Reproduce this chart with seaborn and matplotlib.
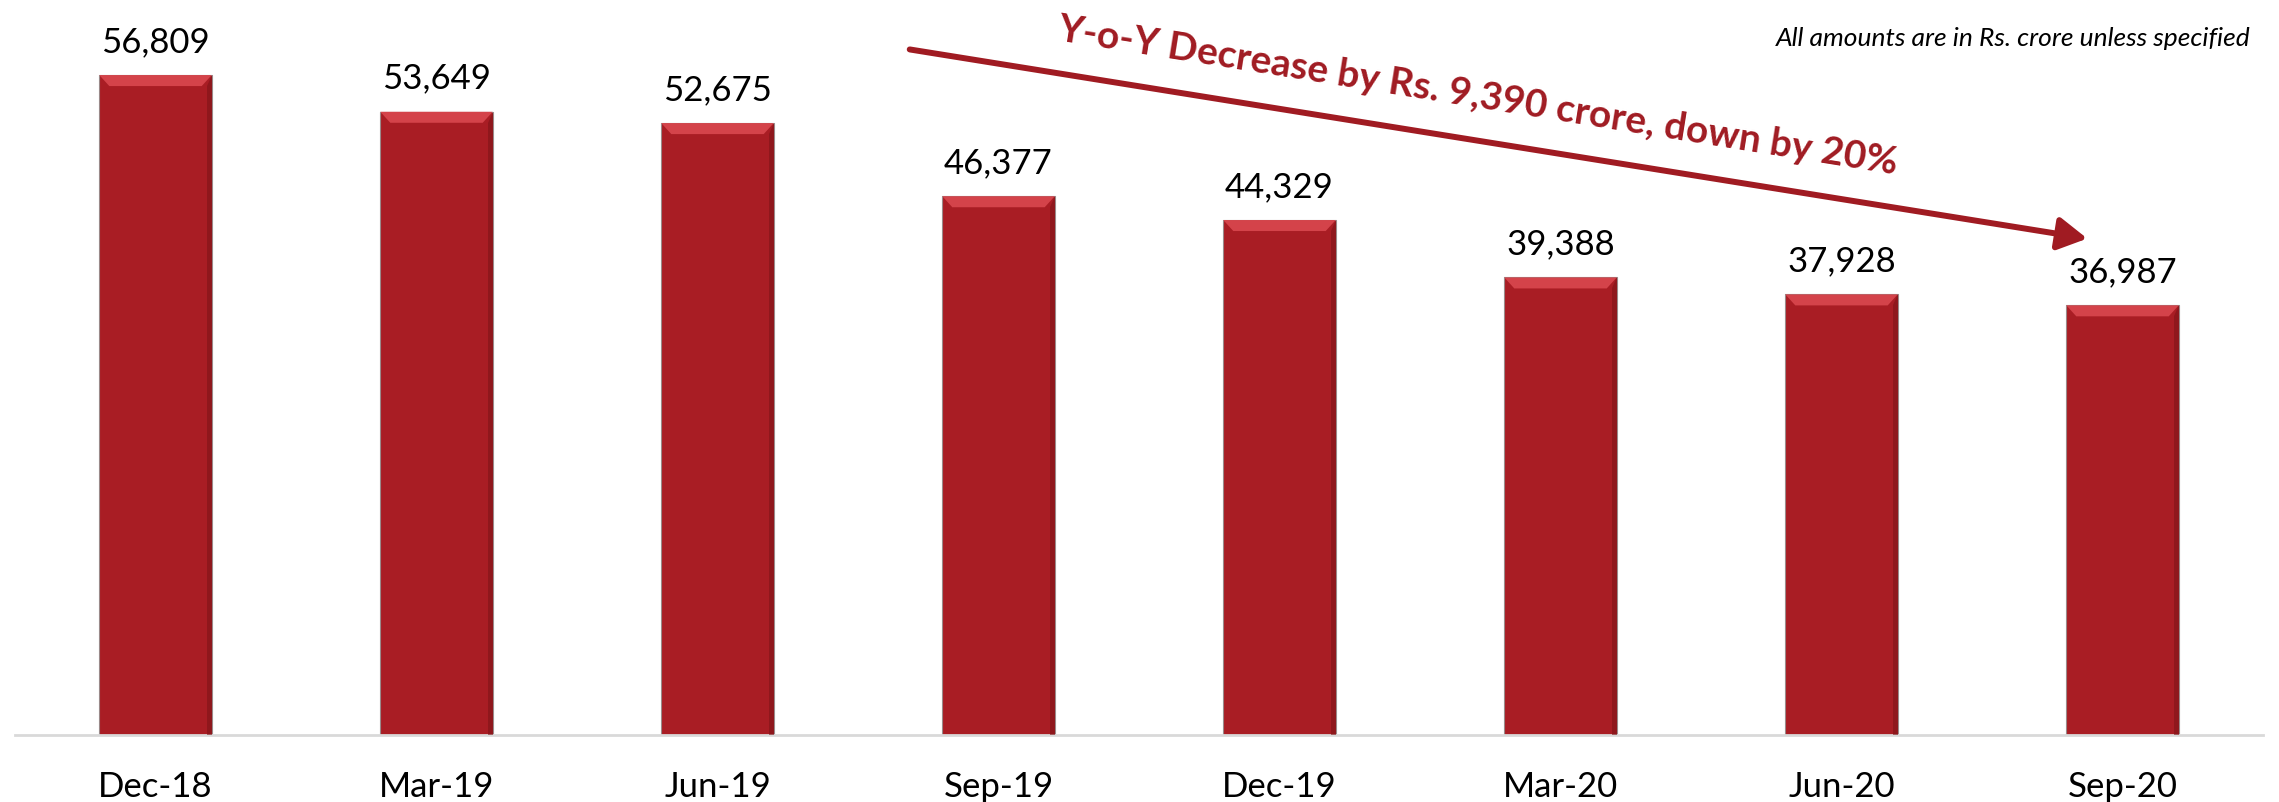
import numpy as np
import pandas as pd
import matplotlib
matplotlib.use("Agg")
import matplotlib.pyplot as plt
from matplotlib.patches import Polygon, FancyArrowPatch
import seaborn as sns

quarters = ["Dec-18", "Mar-19", "Jun-19", "Sep-19", "Dec-19", "Mar-20", "Jun-20", "Sep-20"]
amounts = [56809, 53649, 52675, 46377, 44329, 39388, 37928, 36987]

note_text = "All amounts are in Rs. crore unless specified"
trend_text = "Y-o-Y Decrease by Rs. 9,390 crore, down by 20%"

BAR = "#A91D24"
BAR_TOP = "#D4434A"
BAR_SIDE = "#7E1318"
ACCENT = "#A01B22"

sns.set_theme(style="white")
plt.rcParams["font.family"] = ["Lato", "DejaVu Sans"]

W, H = 2279, 803
fig = plt.figure(figsize=(W / 100, H / 100), dpi=100)
fig.patch.set_facecolor("white")
ax = fig.add_axes([15 / W, 67 / H, 2248 / W, 697 / H])

df = pd.DataFrame({"quarter": quarters, "amount": amounts})
sns.barplot(data=df, x="quarter", y="amount", color=BAR, width=0.4,
            saturation=1, edgecolor="#9a8a8a", linewidth=0.8, ax=ax)

ax.set_xlim(-0.5, len(quarters) - 0.5)
ax.set_ylim(0, 60000)

# bevel look: lighter top strip, darker right strip
px_x = 2248 / len(quarters)        # pixels per category unit
px_y = 697 / 60000                 # pixels per value unit
bev_h = 11 / px_y
bev_w = 10 / px_x
side_w = 5 / px_x
for bar in ax.patches:
    x0 = bar.get_x()
    w = bar.get_width()
    h = bar.get_height()
    top = Polygon([(x0, h), (x0 + w, h), (x0 + w - bev_w, h - bev_h), (x0 + bev_w, h - bev_h)],
                  closed=True, facecolor=BAR_TOP, edgecolor="none", zorder=3)
    side = Polygon([(x0 + w, h), (x0 + w, 0), (x0 + w - side_w, 0), (x0 + w - side_w, h - bev_h)],
                   closed=True, facecolor=BAR_SIDE, edgecolor="none", alpha=0.6, zorder=3)
    ax.add_patch(top)
    ax.add_patch(side)

ax.bar_label(ax.containers[0], labels=[f"{v:,}" for v in amounts],
             padding=13, fontsize=25, color="black")

for s in ["top", "left", "right"]:
    ax.spines[s].set_visible(False)
ax.spines["bottom"].set_color("#D9D9D9")
ax.spines["bottom"].set_linewidth(2)
ax.set_yticks([])
ax.set_xlabel("")
ax.set_ylabel("")
ax.tick_params(axis="x", length=0, pad=25, labelsize=25, labelcolor="black")

# trend arrow and text
arrow = FancyArrowPatch((907 / W, 1 - 50 / H), (2090 / W, 1 - 240 / H),
                        transform=fig.transFigure, arrowstyle="-|>,head_length=0.8,head_width=0.45",
                        mutation_scale=22, color=ACCENT, linewidth=4.3)
fig.patches.append(arrow)
fig.text(1478 / W, 1 - 96 / H, trend_text, rotation=-9.1, rotation_mode="anchor",
         ha="center", va="center", fontsize=28, fontweight="bold", color=ACCENT)

fig.text(2251 / W, 1 - 38 / H, note_text, ha="right", va="center",
         fontsize=19, fontstyle="italic", color="black")

fig.savefig("out.png", dpi=100, facecolor="white")
